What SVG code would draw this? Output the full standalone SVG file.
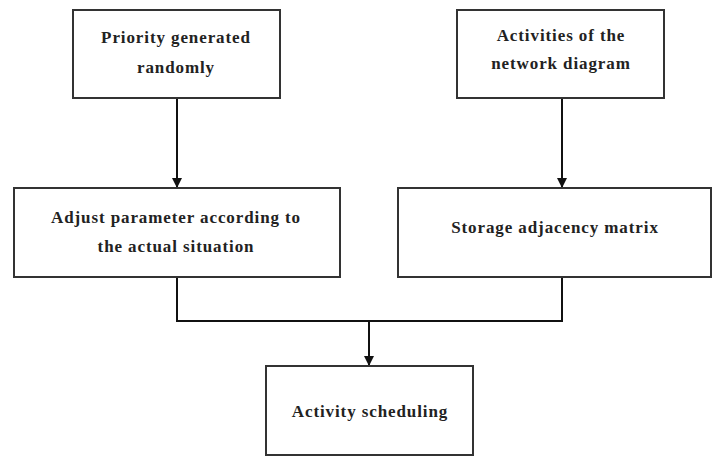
<svg xmlns="http://www.w3.org/2000/svg" width="713" height="458" viewBox="0 0 713 458">
<style>
.box{fill:#fff;stroke:#333;stroke-width:2}
.t{font-family:"Liberation Serif","Times New Roman","DejaVu Serif",serif;font-weight:bold;font-size:17px;letter-spacing:0.9px;fill:#222;text-anchor:middle}
.ln{fill:none;stroke:#111;stroke-width:2}
</style>
<defs>
<marker id="ah" markerWidth="10" markerHeight="10" refX="10" refY="5" orient="auto" markerUnits="userSpaceOnUse">
<path d="M0,0 L10,5 L0,10 Z" fill="#111"/>
</marker>
</defs>
<rect width="713" height="458" fill="#fff"/>
<g id="connectors">
<line class="ln" x1="177" y1="98" x2="177" y2="188" marker-end="url(#ah)"/>
<line class="ln" x1="562" y1="98" x2="562" y2="188" marker-end="url(#ah)"/>
<polyline class="ln" points="177,277 177,321 562,321 562,277"/>
<line class="ln" x1="369" y1="321" x2="369" y2="366" marker-end="url(#ah)"/>
</g>
<g id="n1">
<rect class="box" x="73" y="10" width="207" height="88"/>
<text class="t" x="176" y="43">Priority generated</text>
<text class="t" x="176" y="73">randomly</text>
</g>
<g id="n2">
<rect class="box" x="457" y="10" width="207" height="88"/>
<text class="t" x="561" y="41">Activities of the</text>
<text class="t" x="561" y="69">network diagram</text>
</g>
<g id="n3">
<rect class="box" x="14" y="188" width="326" height="89"/>
<text class="t" x="176" y="223">Adjust parameter according to</text>
<text class="t" x="176" y="252">the actual situation</text>
</g>
<g id="n4">
<rect class="box" x="398" y="188" width="313" height="89"/>
<text class="t" x="555" y="233">Storage adjacency matrix</text>
</g>
<g id="n5">
<rect class="box" x="266" y="366" width="207" height="89"/>
<text class="t" x="370" y="417">Activity scheduling</text>
</g>
</svg>
